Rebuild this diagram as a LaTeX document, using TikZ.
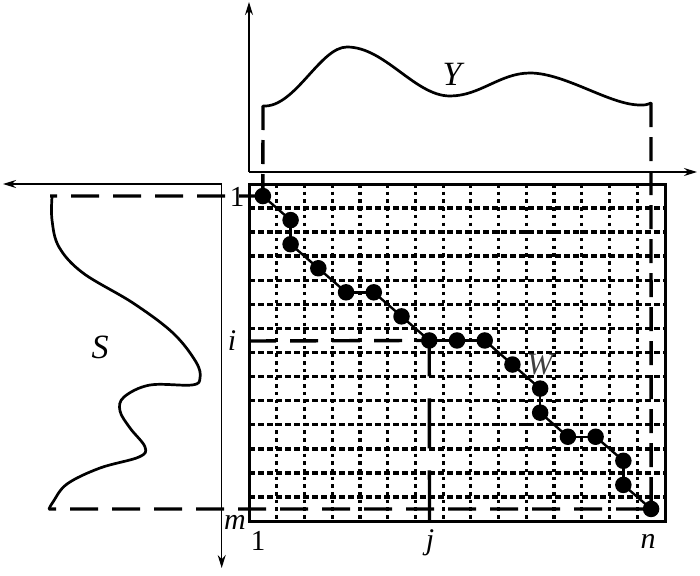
\documentclass[tikz,border=0pt]{standalone}
\usepackage{fontspec}
\setmainfont{Liberation Serif}
\usetikzlibrary{arrows.meta,backgrounds}
\begin{document}
\begin{tikzpicture}[x=1pt,y=-1pt,
  axis/.style={line width=1.5pt,-{Stealth[length=13pt,width=8pt]}},
  curve/.style={line width=2.7pt,line cap=round,line join=round},
  gridh/.style={line width=3.5pt,dash pattern=on 6pt off 3pt},
  gridv/.style={line width=3.2pt,dash pattern=on 3.5pt off 4.2pt},
  frame/.style={line width=3pt},
  guide/.style={line width=3.4pt,dash pattern=on 28pt off 14pt},
  guidev/.style={line width=3.4pt,dash pattern=on 24pt off 10pt},
  dot/.style={circle,fill=black,inner sep=0pt,minimum size=16.5pt},
  pathline/.style={line width=2.4pt},
  lab/.style={font=\fontsize{30}{30}\selectfont\itshape,inner sep=0pt},
  labu/.style={font=\fontsize{29}{29}\selectfont,inner sep=0pt},
  big/.style={font=\fontsize{34}{34}\selectfont\itshape,inner sep=0pt}]
\useasboundingbox (0,0) rectangle (700,575);
% dots (column, row) on a 15x14 grid
\def\cw{27.73}\def\rh{24.07}
\foreach \c/\r [count=\k from 0] in {0/0,1/1,1/2,2/3,3/4,4/4,5/5,6/6,7/6,8/6,9/7,10/8,10/9,11/10,12/10,13/11,13/12,14/13}{
  \node[dot] (d\k) at ({249+(\c+0.5)*\cw},{184+(\r+0.5)*\rh}) {};
}
\foreach \a [evaluate=\a as \b using int(\a+1)] in {0,...,16}{
  \draw[pathline] (d\a.center) -- (d\b.center);
}
% labels
\node[labu] (one) at (237,197) {1};
\node[lab] (ilab) at (232,341) {i};
\node[lab] (mlab) at (235,522) {m};
\node[labu] (oneb) at (258,541) {1};
\node[lab] (jlab) at (430,543) {j};
\node[lab] (nlab) at (648,541) {n};
\node[big] (Slab) at (100,347) {S};
\node[big] (Ylab) at (452,74) {Y};
\node[font=\fontsize{31}{31}\selectfont\itshape,inner sep=0pt,text=black!75] (Wlab) at (540,365) {W};
% curve end points
\coordinate (s1) at (50,196);
\coordinate (sm) at (49,509);
\coordinate (y1) at (263,106);
\coordinate (yn) at (651,103);
\coordinate (ist) at (248,341);
\coordinate (jend) at (429.5,521);
\begin{pgfonlayer}{background}
  % grid
  \foreach \k in {1,...,13}{\draw[gridh] (249,{184+\k*\rh}) -- (665,{184+\k*\rh});}
  \foreach \k in {1,...,14}{\draw[gridv] ({249+\k*\cw},184) -- ({249+\k*\cw},521);}
  \draw[frame] (249,184) rectangle (665,521);
  % guides
  \draw[guide,dash phase=21pt] (s1) -- (d0.center);
  \draw[guide,dash phase=21pt] (sm) -- (d17.center);
  \draw[guide] (ist) -- (d7.center);
  \draw[line width=3.4pt,dash pattern=on 50pt off 22pt,dash phase=14pt] (d7.center) -- (jend);
  \draw[guidev] (y1) -- (d0.center);
  \draw[guidev] (yn) -- (d17.center);
\end{pgfonlayer}
% axes
\draw[axis] (249,172) -- (249,2);
\draw[axis] (249,172) -- (697,172);
\draw[axis] (221.7,184) -- (3,184);
\draw[axis] (221.7,184) -- (221.7,568);
% curves
\draw[curve] (y1) .. controls (295,108) and (320,47) .. (347,47)
  .. controls (385,47) and (415,96) .. (450,96)
  .. controls (480,96) and (500,73) .. (530,73)
  .. controls (565,73) and (610,105) .. (640,105)
  .. controls (646,105) .. (yn);
\draw[curve] plot[smooth,tension=0.6] coordinates {(52,197) (52,220) (59,247) (83,273) (133,303) (173,333) (196,362) (200,378) (192,385) (150,385) (124,397) (120,411) (130,428) (145,447) (139,457) (100,468) (67,484) (53,502) (49,509)};
\end{tikzpicture}
\end{document}
